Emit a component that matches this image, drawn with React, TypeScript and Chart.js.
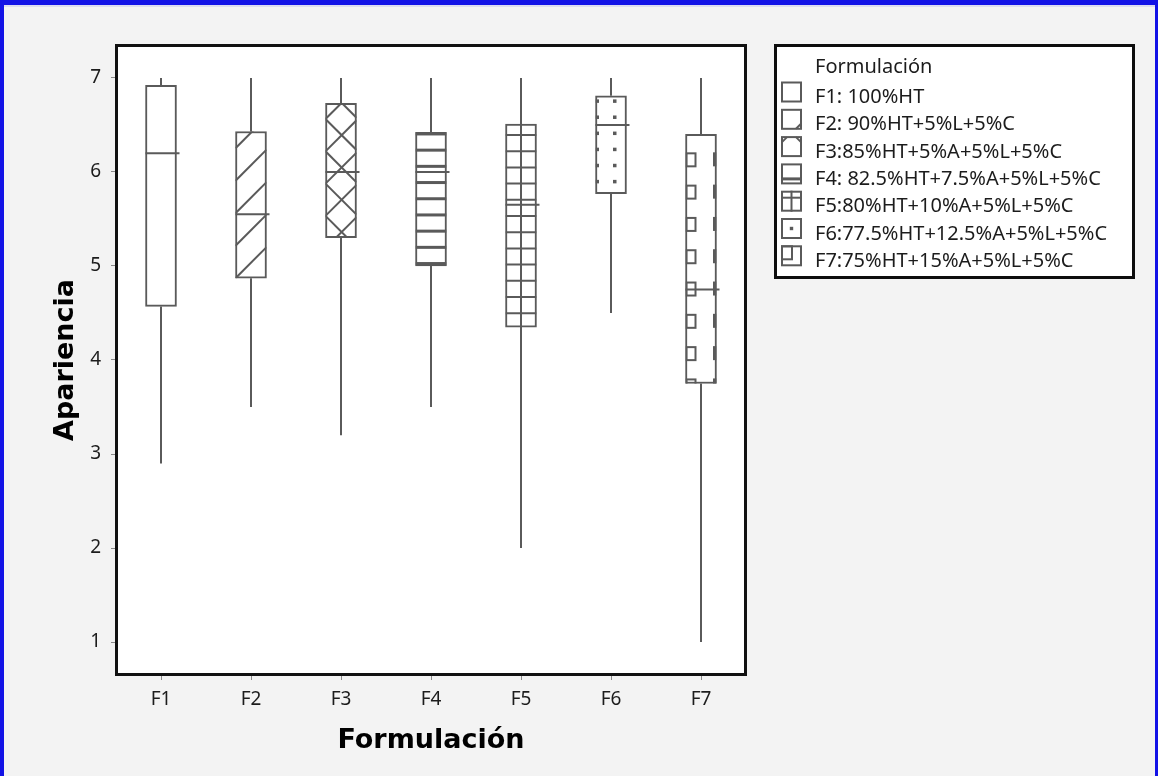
import React, { useEffect, useRef } from 'react';
import { Chart, registerables } from 'chart.js';

Chart.register(...registerables);

// Formulations on the x axis
const CATEGORIES = ['F1', 'F2', 'F3', 'F4', 'F5', 'F6', 'F7'];

// Legend entries for each formulation
const LEGEND_LABELS = [
  'F1: 100%HT',
  'F2: 90%HT+5%L+5%C',
  'F3:85%HT+5%A+5%L+5%C',
  'F4: 82.5%HT+7.5%A+5%L+5%C',
  'F5:80%HT+10%A+5%L+5%C',
  'F6:77.5%HT+12.5%A+5%L+5%C',
  'F7:75%HT+15%A+5%L+5%C',
];

// Box-plot statistics of the "Apariencia" score per formulation
const WHISKER_LOW = [2.9, 3.5, 3.2, 3.5, 2.0, 4.5, 1.0];
const Q1 = [4.57, 4.87, 5.3, 5.0, 4.35, 5.77, 3.75];
const MEDIAN = [6.2, 5.55, 6.0, 6.0, 5.65, 6.5, 4.75];
const Q3 = [6.92, 6.43, 6.73, 6.42, 6.51, 6.81, 6.4];
const WHISKER_HIGH = [7, 7, 7, 7, 7, 7, 7];

// Y axis ticks
const Y_TICKS = [1, 2, 3, 4, 5, 6, 7];

const PAGE_BG = '#f3f3f3';
const FRAME_BLUE = '#1212e6';
const BOX_COLOR = '#5a5a5a';
const TEXT_COLOR = '#1c1c1c';
const TEXT_FONT = '"Noto Sans", "Open Sans", sans-serif';
const TITLE_FONT = '"DejaVu Sans", sans-serif';

type Rect = { left: number; top: number; right: number; bottom: number };

function seg(ctx: CanvasRenderingContext2D, x1: number, y1: number, x2: number, y2: number) {
  ctx.beginPath();
  ctx.moveTo(x1, y1);
  ctx.lineTo(x2, y2);
  ctx.stroke();
}

// Fill style drawn inside each box (one per formulation)
const BOX_FILLS: Array<(ctx: CanvasRenderingContext2D, b: Rect) => void> = [
  // F1: plain
  () => {},
  // F2: single diagonal hatch
  (ctx, b) => {
    const w = b.right - b.left;
    for (let y0 = b.bottom; y0 > b.top - w; y0 -= 32.5) seg(ctx, b.left, y0, b.right, y0 - w);
  },
  // F3: cross hatch
  (ctx, b) => {
    const w = b.right - b.left;
    for (let y0 = b.top + 15.7 - 4 * 32.3; y0 < b.bottom + w; y0 += 32.3) {
      seg(ctx, b.left, y0, b.right, y0 + w);
      seg(ctx, b.left, y0, b.right, y0 - w);
    }
  },
  // F4: heavy horizontal bands
  (ctx, b) => {
    const w = b.right - b.left;
    for (let y = b.top + 1.5; y <= b.bottom + 1; y += 16.2) ctx.fillRect(b.left, y - 1.5, w, 3);
  },
  // F5: grid
  (ctx, b) => {
    for (let y = b.top + 11; y < b.bottom; y += 16.2) seg(ctx, b.left, y, b.right, y);
    const cx = (b.left + b.right) / 2;
    seg(ctx, cx, b.top, cx, b.bottom);
  },
  // F6: dots
  (ctx, b) => {
    for (let y = b.top + 5.3; y < b.bottom - 3; y += 16.1) {
      ctx.fillRect(b.left, y - 1.7, 3.5, 3.5);
      ctx.fillRect(b.left + 17.5, y - 1.7, 3.5, 3.5);
    }
  },
  // F7: small squares on the left, dashes on the right
  (ctx, b) => {
    for (let y = b.top + 18; y < b.bottom; y += 32.3) {
      ctx.strokeRect(b.left + 1, y + 1, 9, 13);
      ctx.fillRect(b.right - 3.5, y, 3.5, 14);
    }
  },
];

// Small legend swatches, 21x21
const SWATCH_MARKS: Array<(ctx: CanvasRenderingContext2D, x: number, y: number, s: number) => void> = [
  () => {},
  (ctx, x, y, s) => seg(ctx, x + s - 6, y + s - 1, x + s - 1, y + s - 6),
  (ctx, x, y, s) => {
    seg(ctx, x + 1, y + 6, x + 6, y + 1);
    seg(ctx, x + s - 6, y + 1, x + s - 1, y + 6);
  },
  (ctx, x, y, s) => ctx.fillRect(x, y + s - 7, s, 3),
  (ctx, x, y, s) => {
    seg(ctx, x, y + 7, x + s, y + 7);
    seg(ctx, x + s / 2, y, x + s / 2, y + s);
  },
  (ctx, x, y, s) => ctx.fillRect(x + s / 2 - 1.7, y + s / 2 - 1.7, 3.4, 3.4),
  (ctx, x, y, s) => {
    ctx.strokeRect(x + 1, y + 1, 10, 13);
  },
];

const boxPlotPlugin = {
  id: 'boxPlotDecor',
  beforeDraw(chart: Chart) {
    const { ctx, width, height, chartArea: a } = chart;
    ctx.save();
    ctx.fillStyle = PAGE_BG;
    ctx.fillRect(0, 0, width, height);
    ctx.fillStyle = '#dcdcf0';
    ctx.fillRect(0, 5, width, 2);
    ctx.fillStyle = FRAME_BLUE;
    ctx.fillRect(0, 0, width, 5);
    ctx.fillRect(0, 0, 4, height);
    ctx.fillRect(width - 3, 0, 3, height);
    ctx.fillStyle = '#ffffff';
    ctx.fillRect(a.left, a.top, a.right - a.left, a.bottom - a.top);
    ctx.restore();
  },
  afterDatasetsDraw(chart: Chart) {
    const { ctx } = chart;
    const y = chart.scales.y;
    const meta = chart.getDatasetMeta(0);
    ctx.save();
    ctx.strokeStyle = BOX_COLOR;
    ctx.fillStyle = BOX_COLOR;
    ctx.lineWidth = 2;
    meta.data.forEach((el: any, i: number) => {
      const p = el.getProps(['x', 'y', 'base', 'width'], true);
      const b: Rect = {
        left: p.x - p.width / 2,
        right: p.x + p.width / 2,
        top: Math.min(p.y, p.base),
        bottom: Math.max(p.y, p.base),
      };
      // inner fill
      ctx.save();
      ctx.beginPath();
      ctx.rect(b.left, b.top, b.right - b.left, b.bottom - b.top);
      ctx.clip();
      BOX_FILLS[i](ctx, b);
      ctx.restore();
      // whiskers
      seg(ctx, p.x, y.getPixelForValue(Q3[i]), p.x, y.getPixelForValue(WHISKER_HIGH[i]));
      seg(ctx, p.x, y.getPixelForValue(Q1[i]), p.x, y.getPixelForValue(WHISKER_LOW[i]));
      // median
      const ym = y.getPixelForValue(MEDIAN[i]);
      seg(ctx, b.left, ym, b.right + 3, ym);
    });
    ctx.restore();
  },
  afterDraw(chart: Chart) {
    const { ctx, chartArea: a } = chart;
    ctx.save();
    // plot frame
    ctx.strokeStyle = '#111111';
    ctx.lineWidth = 3;
    ctx.strokeRect(a.left + 0.5, a.top + 0.5, a.right - a.left - 1, a.bottom - a.top - 1);

    // legend
    const lx = 774, ly = 44, lw = 361, lh = 235;
    ctx.fillStyle = '#ffffff';
    ctx.fillRect(lx, ly, lw, lh);
    ctx.strokeStyle = '#0d0d0d';
    ctx.lineWidth = 3;
    ctx.strokeRect(lx + 1.5, ly + 1.5, lw - 3, lh - 3);

    ctx.fillStyle = TEXT_COLOR;
    ctx.font = `20px ${TEXT_FONT}`;
    ctx.textAlign = 'left';
    ctx.textBaseline = 'alphabetic';
    ctx.fillText('Formulación', 815, 73);
    LEGEND_LABELS.forEach((label, i) => {
      const base = 103 + i * 27.3;
      const s = 21;
      const sx = 781, sy = base - 21.5;
      ctx.fillStyle = TEXT_COLOR;
      ctx.fillText(label, 815, base);
      ctx.strokeStyle = BOX_COLOR;
      ctx.fillStyle = BOX_COLOR;
      ctx.lineWidth = 2;
      ctx.strokeRect(sx + 1, sy + 1, s - 2, s - 2);
      SWATCH_MARKS[i](ctx, sx, sy, s);
    });
    ctx.restore();
  },
};

export default function App() {
  const canvasRef = useRef<HTMLCanvasElement | null>(null);

  useEffect(() => {
    const canvas = canvasRef.current;
    if (!canvas) return;
    const chart = new Chart(canvas, {
      type: 'bar',
      data: {
        labels: CATEGORIES,
        datasets: [
          {
            label: 'Apariencia',
            data: CATEGORIES.map((_, i) => [Q1[i], Q3[i]]) as any,
            backgroundColor: '#ffffff',
            borderColor: BOX_COLOR,
            borderWidth: 2,
            borderSkipped: false,
            barThickness: 31,
          },
        ],
      },
      options: {
        responsive: false,
        animation: false,
        devicePixelRatio: 1,
        layout: { padding: { left: 0, top: 45, right: 412, bottom: 0 } },
        plugins: { legend: { display: false }, tooltip: { enabled: false } },
        scales: {
          x: {
            type: 'category',
            offset: true,
            grid: { drawOnChartArea: false, drawTicks: true, tickLength: 5, color: '#8a8a8a', offset: false },
            border: { display: false },
            ticks: { color: TEXT_COLOR, font: { family: TEXT_FONT, size: 19 }, padding: 8, maxRotation: 0 },
            title: {
              display: true,
              text: 'Formulación',
              color: '#000000',
              font: { family: TITLE_FONT, size: 27, weight: 'bold' },
              padding: { top: 0, bottom: 19 },
            },
            afterFit: (s: any) => {
              s.height = 101;
            },
          },
          y: {
            type: 'linear',
            min: 0.65,
            max: 7.35,
            afterBuildTicks: (s: any) => {
              s.ticks = Y_TICKS.map((v) => ({ value: v }));
            },
            grid: { drawOnChartArea: false, drawTicks: true, tickLength: 5, color: '#8a8a8a' },
            border: { display: false },
            ticks: { color: TEXT_COLOR, font: { family: TEXT_FONT, size: 19 }, padding: 10 },
            title: {
              display: true,
              text: 'Apariencia',
              color: '#000000',
              font: { family: TITLE_FONT, size: 27, weight: 'bold' },
              padding: { top: 50, bottom: 0 },
            },
            afterFit: (s: any) => {
              s.width = 116;
            },
          },
        },
      } as any,
      plugins: [boxPlotPlugin as any],
    });
    return () => chart.destroy();
  }, []);

  return (
    <div style={{ position: 'absolute', left: 0, top: 0, width: 1158, height: 776 }}>
      <canvas ref={canvasRef} width={1158} height={776} style={{ display: 'block' }} />
    </div>
  );
}
